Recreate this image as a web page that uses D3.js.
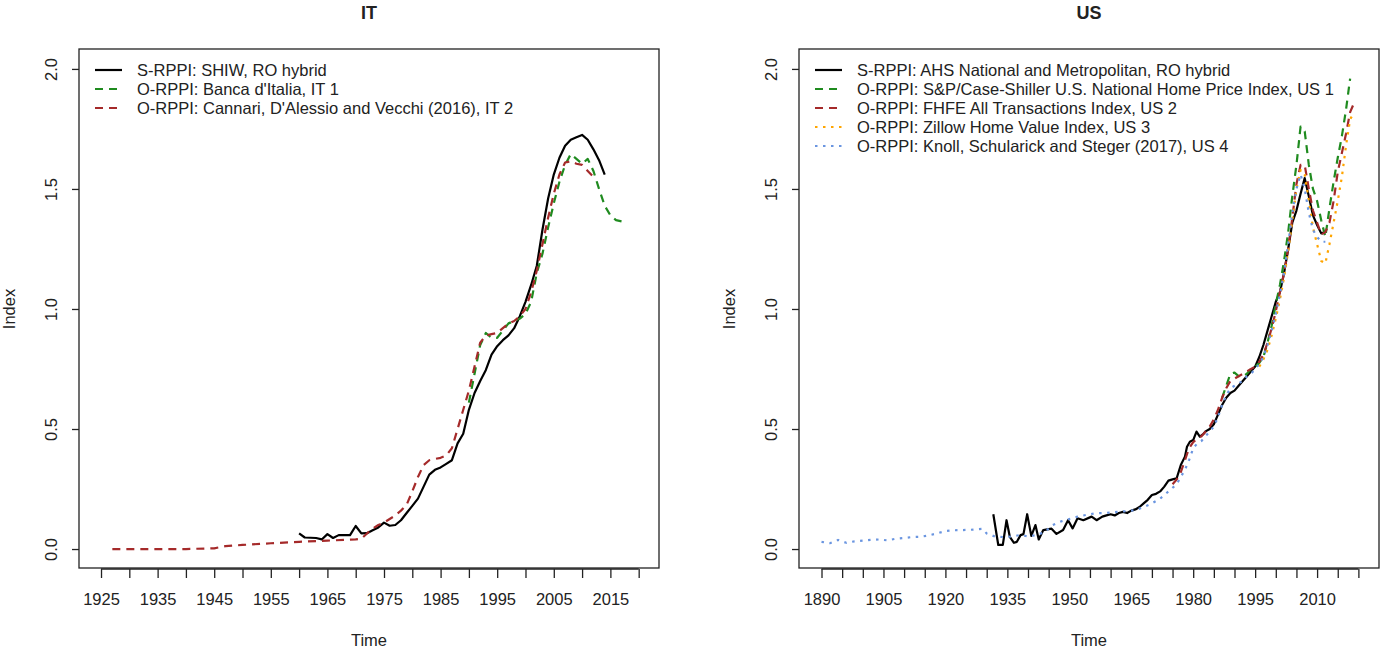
<!DOCTYPE html>
<html>
<head>
<meta charset="utf-8">
<script src="https://cdn.jsdelivr.net/npm/d3@7"></script>
<style>
  body { margin: 0; background: #fff; }
  text { font-family: "Liberation Sans", Arial, sans-serif; fill: #222; }
</style>
</head>
<body>
<div class="chart"></div>
<script>
var svgWidth = 1381;
var svgHeight = 650;

// ---- data: [year, index] ----
var itShiw = [[1960,0.065],[1961,0.048],[1963,0.046],[1964,0.04],[1965,0.062],[1966,0.046],[1967,0.058],
  [1969,0.058],[1970,0.096],[1971,0.065],[1972,0.066],[1973,0.078],[1974,0.09],[1975,0.11],[1976,0.097],
  [1977,0.1],[1978,0.12],[1979,0.15],[1980,0.18],[1981,0.21],[1982,0.26],[1983,0.31],[1984,0.33],[1985,0.34],
  [1986,0.355],[1987,0.37],[1988,0.44],[1989,0.48],[1990,0.58],[1991,0.65],[1992,0.7],[1993,0.746],[1994,0.81],
  [1995,0.845],[1996,0.87],[1997,0.89],[1998,0.92],[1999,0.97],[2000,1.03],[2001,1.1],[2002,1.18],[2003,1.33],
  [2004,1.46],[2005,1.56],[2006,1.63],[2007,1.68],[2008,1.705],[2009,1.715],[2010,1.725],[2011,1.705],
  [2012,1.665],[2013,1.62],[2014,1.56]];
var itBanca = [[1990,0.61],[1991,0.73],[1992,0.85],[1993,0.9],[1994,0.88],[1995,0.88],[1996,0.91],[1997,0.94],
  [1998,0.95],[1999,0.96],[2000,0.98],[2001,1.03],[2002,1.15],[2003,1.23],[2004,1.34],[2005,1.44],[2006,1.53],
  [2007,1.6],[2008,1.645],[2009,1.625],[2010,1.605],[2011,1.625],[2012,1.575],[2013,1.5],[2014,1.43],
  [2015,1.39],[2016,1.37],[2017,1.365],[2018,1.36]];
var itCannari = [[1927,0.0],[1930,0.0],[1935,0.0],[1940,0.0],[1945,0.003],[1947,0.012],[1950,0.017],[1955,0.024],
  [1960,0.03],[1965,0.035],[1970,0.04],[1971,0.043],[1972,0.065],[1973,0.085],[1974,0.1],[1975,0.11],[1976,0.125],
  [1977,0.14],[1978,0.16],[1979,0.185],[1980,0.24],[1981,0.3],[1982,0.35],[1983,0.37],[1984,0.375],[1985,0.38],
  [1986,0.39],[1987,0.42],[1988,0.5],[1989,0.58],[1990,0.66],[1991,0.76],[1992,0.86],[1993,0.89],[1994,0.895],
  [1995,0.9],[1996,0.92],[1997,0.94],[1998,0.95],[1999,0.97],[2000,1.0],[2001,1.07],[2002,1.16],[2003,1.27],
  [2004,1.38],[2005,1.48],[2006,1.56],[2007,1.61],[2008,1.615],[2009,1.605],[2010,1.6],[2011,1.575],[2012,1.55]];

var usAhs = [[1931.6,0.145],[1932.8,0.017],[1933.9,0.017],[1934.8,0.12],[1935.6,0.051],[1936.6,0.026],
  [1937.3,0.03],[1938.2,0.058],[1938.9,0.062],[1939.8,0.145],[1940.8,0.055],[1941.8,0.1],[1942.6,0.04],
  [1943.7,0.079],[1945.7,0.085],[1946.9,0.063],[1948.5,0.079],[1949.7,0.12],[1950.8,0.086],[1952,0.128],
  [1953.4,0.12],[1955.4,0.135],[1956.6,0.12],[1958,0.135],[1959,0.14],[1960,0.145],[1961,0.14],[1962,0.15],
  [1963,0.155],[1964,0.15],[1965,0.16],[1966,0.165],[1967,0.175],[1968,0.19],[1969,0.205],[1970,0.225],
  [1971,0.23],[1972,0.24],[1973,0.26],[1974,0.285],[1975,0.29],[1976,0.295],[1977,0.35],[1978,0.385],
  [1978.5,0.426],[1979.2,0.447],[1980,0.454],[1980.8,0.489],[1981.6,0.468],[1982.5,0.48],[1983,0.49],
  [1984,0.5],[1985,0.52],[1986,0.56],[1987,0.6],[1988,0.63],[1989,0.65],[1990,0.66],[1991,0.68],[1992,0.7],
  [1993,0.72],[1994,0.74],[1995,0.76],[1996,0.8],[1997,0.85],[1998,0.91],[1999,0.97],[2000,1.03],[2001,1.07],
  [2002,1.15],[2003,1.25],[2004,1.36],[2005,1.41],[2006,1.48],[2007,1.545],[2008,1.47],[2009,1.39],
  [2010,1.35],[2011,1.315],[2012,1.32]];
var usCaseShiller = [[1987,0.63],[1988,0.68],[1989,0.73],[1990,0.735],[1991,0.72],[1992,0.72],[1993,0.73],
  [1994,0.75],[1995,0.76],[1996,0.775],[1997,0.8],[1998,0.86],[1999,0.93],[2000,1.02],[2001,1.1],[2002,1.2],
  [2003,1.32],[2004,1.47],[2005,1.6],[2006,1.76],[2007,1.74],[2008,1.6],[2009,1.5],[2010,1.45],[2011,1.37],
  [2012,1.3],[2013,1.42],[2014,1.53],[2015,1.63],[2016,1.72],[2017,1.83],[2018,1.96]];
var usFhfa = [[1975,0.27],[1976,0.29],[1977,0.32],[1978,0.37],[1979,0.42],[1980,0.445],[1981,0.46],[1982,0.47],
  [1983,0.49],[1984,0.51],[1985,0.54],[1986,0.58],[1987,0.63],[1988,0.67],[1989,0.7],[1990,0.71],[1991,0.72],
  [1992,0.73],[1993,0.74],[1994,0.75],[1995,0.76],[1996,0.78],[1997,0.81],[1998,0.86],[1999,0.92],[2000,0.99],
  [2001,1.07],[2002,1.15],[2003,1.25],[2004,1.38],[2005,1.52],[2006,1.6],[2007,1.6],[2008,1.5],[2009,1.41],
  [2010,1.36],[2011,1.31],[2012,1.32],[2013,1.36],[2014,1.45],[2015,1.57],[2016,1.65],[2017,1.73],
  [2018,1.82],[2018.75,1.85]];
var usZillow = [[1996,0.76],[1997,0.79],[1998,0.83],[1999,0.89],[2000,0.96],[2001,1.04],[2002,1.13],[2003,1.24],
  [2004,1.37],[2005,1.5],[2006,1.58],[2007,1.56],[2008,1.45],[2009,1.34],[2010,1.27],[2011,1.2],[2012,1.19],
  [2013,1.27],[2014,1.36],[2015,1.45],[2016,1.55],[2017,1.68],[2018,1.79],[2019,1.82]];
var usKnoll = [[1890,0.03],[1892,0.024],[1894,0.038],[1896,0.026],[1898,0.032],[1900,0.035],[1902,0.038],
  [1904,0.04],[1906,0.036],[1908,0.043],[1910,0.046],[1912,0.05],[1914,0.051],[1916,0.057],[1918,0.065],
  [1920,0.075],[1922,0.078],[1924,0.079],[1926,0.08],[1928,0.083],[1929,0.084],[1930,0.065],[1932,0.052],
  [1934,0.05],[1936,0.052],[1938,0.058],[1940,0.053],[1942,0.058],[1944,0.07],[1946,0.1],[1948,0.115],
  [1950,0.125],[1952,0.135],[1954,0.142],[1956,0.148],[1958,0.15],[1960,0.152],[1962,0.155],[1964,0.158],
  [1966,0.162],[1968,0.175],[1970,0.19],[1972,0.21],[1974,0.24],[1976,0.27],[1978,0.33],[1979,0.37],
  [1980,0.42],[1981,0.44],[1982,0.45],[1983,0.47],[1984,0.49],[1985,0.51],[1986,0.55],[1987,0.6],[1988,0.64],
  [1989,0.67],[1990,0.68],[1991,0.69],[1992,0.7],[1993,0.72],[1994,0.73],[1995,0.75],[1996,0.77],[1997,0.8],
  [1998,0.85],[1999,0.91],[2000,0.98],[2001,1.06],[2002,1.15],[2003,1.27],[2004,1.4],[2005,1.5],[2006,1.56],
  [2007,1.5],[2008,1.4],[2009,1.33],[2010,1.3],[2011,1.28],[2012,1.28]];

var itLegend = ["S-RPPI: SHIW, RO hybrid", "O-RPPI: Banca d'Italia, IT 1",
  "O-RPPI: Cannari, D'Alessio and Vecchi (2016), IT 2"];
var usLegend = ["S-RPPI: AHS National and Metropolitan, RO hybrid",
  "O-RPPI: S&P/Case-Shiller U.S. National Home Price Index, US 1",
  "O-RPPI: FHFE All Transactions Index, US 2", "O-RPPI: Zillow Home Value Index, US 3",
  "O-RPPI: Knoll, Schularick and Steger (2017), US 4"];

var yTicks = [0, 0.5, 1.0, 1.5, 2.0];
var itXTicks = d3.range(1925, 2021, 5);
var itXLabels = [1925, 1935, 1945, 1955, 1965, 1975, 1985, 1995, 2005, 2015];
var usXTicks = d3.range(1890, 2021, 5);
var usXLabels = [1890, 1905, 1920, 1935, 1950, 1965, 1980, 1995, 2010];

// styles for the series (colour, dash)
var sSolid = {color: "#000000", dash: null};
var sGreen = {color: "#1f8b1f", dash: "8,6"};
var sRed = {color: "#a52a2a", dash: "8,6"};
var sOrange = {color: "#ffa500", dash: "2.5,5.5"};
var sBlue = {color: "#6a95e0", dash: "2.5,5.5"};

var svg = d3.select(".chart").append("svg")
  .attr("width", svgWidth)
  .attr("height", svgHeight);

function drawPanel(p) {
  var g = svg.append("g");
  var x = d3.scaleLinear().domain(p.xDomain).range([p.left, p.right]);
  var y = d3.scaleLinear().domain([-0.079, 2.083]).range([568, 49]);

  // title
  g.append("text")
    .attr("x", (p.left + p.right) / 2).attr("y", 19)
    .attr("text-anchor", "middle")
    .style("font-size", "18px").style("font-weight", "bold")
    .text(p.title);

  // x axis
  var xaxis = d3.axisBottom(x).tickValues(p.xTicks).tickSize(9).tickSizeOuter(0)
    .tickFormat(function(d) { return p.xLabels.indexOf(d) >= 0 ? d : ""; });
  var gx = g.append("g").attr("transform", "translate(0, 569)").call(xaxis);
  gx.select(".domain").remove();
  gx.selectAll("line").attr("stroke", "#222").attr("stroke-width", 1.3);
  gx.selectAll("text").attr("dy", "0").attr("y", 36)
    .style("font-size", "16.5px").style("font-family", "Liberation Sans, Arial, sans-serif");
  g.append("line")
    .attr("x1", x(p.xTicks[0])).attr("x2", x(p.xTicks[p.xTicks.length - 1]))
    .attr("y1", 569).attr("y2", 569).attr("stroke", "#222").attr("stroke-width", 1.3);

  // y axis
  var yaxis = d3.axisLeft(y).tickValues(yTicks).tickSize(7).tickFormat(d3.format(".1f"));
  var gy = g.append("g").attr("transform", `translate(${p.left}, 0)`).call(yaxis);
  gy.select(".domain").remove();
  gy.selectAll("line").attr("stroke", "#222").attr("stroke-width", 1.3);
  gy.selectAll("text")
    .attr("x", null).attr("dy", null)
    .attr("text-anchor", "middle")
    .attr("transform", "translate(-22, 0) rotate(-90)")
    .style("font-size", "16.5px").style("font-family", "Liberation Sans, Arial, sans-serif");

  // box
  g.append("rect")
    .attr("x", p.left).attr("y", 49)
    .attr("width", p.right - p.left).attr("height", 568 - 49)
    .attr("fill", "none").attr("stroke", "#222").attr("stroke-width", 1.3);

  // axis titles
  g.append("text")
    .attr("x", (p.left + p.right) / 2).attr("y", 646)
    .attr("text-anchor", "middle").style("font-size", "16.5px")
    .text("Time");
  g.append("text")
    .attr("transform", `translate(${p.left - 64}, 309) rotate(-90)`)
    .attr("text-anchor", "middle").style("font-size", "16.5px")
    .text("Index");

  // lines
  var line = d3.line().x(d => x(d[0])).y(d => y(d[1]));
  p.series.forEach(function(s) {
    g.append("path")
      .datum(s.data)
      .attr("d", line)
      .attr("fill", "none")
      .attr("stroke", s.style.color)
      .attr("stroke-width", 2.2)
      .attr("stroke-dasharray", s.style.dash)
      .attr("stroke-linejoin", "round");
  });

  // legend
  p.legend.forEach(function(lbl, i) {
    var ly = 70 + i * 19;
    var st = p.series[i].style;
    g.append("line")
      .attr("x1", p.left + 16).attr("x2", p.left + 43)
      .attr("y1", ly).attr("y2", ly)
      .attr("stroke", st.color).attr("stroke-width", 2.2)
      .attr("stroke-dasharray", st.dash);
    g.append("text")
      .attr("x", p.left + 58).attr("y", ly + 6)
      .style("font-size", "16.5px")
      .text(lbl);
  });
}

drawPanel({
  title: "IT", left: 79, right: 659,
  xDomain: [1921.11, 2023.59],
  xTicks: itXTicks, xLabels: itXLabels,
  legend: itLegend,
  series: [{data: itShiw, style: sSolid}, {data: itBanca, style: sGreen}, {data: itCannari, style: sRed}]
});

drawPanel({
  title: "US", left: 799, right: 1379,
  xDomain: [1884.55, 2024.99],
  xTicks: usXTicks, xLabels: usXLabels,
  legend: usLegend,
  series: [{data: usAhs, style: sSolid}, {data: usCaseShiller, style: sGreen}, {data: usFhfa, style: sRed},
    {data: usZillow, style: sOrange}, {data: usKnoll, style: sBlue}]
});
</script>
</body>
</html>
